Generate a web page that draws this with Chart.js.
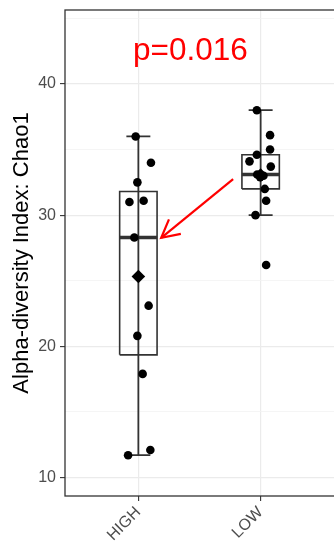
<!DOCTYPE html>
<html><head><meta charset="utf-8">
<script src="https://cdn.jsdelivr.net/npm/chart.js@4.4.1/dist/chart.umd.min.js"></script>
<style>html,body{margin:0;padding:0;background:#fff;overflow:hidden}</style>
</head><body>
<canvas id="c" width="334" height="547"></canvas>
<script>
// ---- data ----
const groups = ['HIGH', 'LOW'];
const highValues = [36.0, 34.0, 32.5, 31.0, 31.1, 28.3, 23.1, 20.8, 17.9, 11.7, 12.1];
const highJitter = [0.978, 1.103, 0.992, 0.927, 1.043, 0.967, 1.084, 0.992, 1.035, 0.916, 1.098];
const lowValues = [38.0, 36.1, 35.0, 34.6, 34.1, 33.7, 33.1, 33.0, 32.9, 32.0, 31.1, 30.0, 26.2];
const lowJitter = [1.969, 2.077, 2.077, 1.969, 1.909, 2.083, 1.972, 2.023, 1.996, 2.034, 2.045, 1.958, 2.045];
const yMajorTicks = [10, 20, 30, 40];
const yMinorTicks = [15, 25, 35, 45];
const yTitle = 'Alpha-diversity Index: Chao1';
const pLabel = 'p=0.016';
const pLabelPos = [1.426, 42.5];
const arrowFrom = [1.775, 32.75];
const arrowTo = [1.187, 28.27];

// ---- styles ----
const FONT = "'Liberation Sans', Arial, Helvetica, sans-serif";
const BOX_HALF = 0.153, CAP_HALF = 0.098;
const LINE = '#333333';

function quantile(arr, p) {
  const s = arr.slice().sort((a, b) => a - b);
  const h = (s.length - 1) * p, lo = Math.floor(h), hi = Math.ceil(h);
  return s[lo] + (s[hi] - s[lo]) * (h - lo);
}
function stats(v) {
  const q1 = quantile(v, 0.25), q3 = quantile(v, 0.75), med = quantile(v, 0.5);
  const iqr = q3 - q1;
  const inside = v.filter(x => x >= q1 - 1.5 * iqr && x <= q3 + 1.5 * iqr);
  return { q1, q3, med, lo: Math.min(...inside), hi: Math.max(...inside),
           mean: v.reduce((a, b) => a + b, 0) / v.length };
}
const allValues = [highValues, lowValues];
const allJitter = [highJitter, lowJitter];
const st = allValues.map(stats);

const boxPts = [], medPts = [], whiskPts = [], capPts = [], meanPts = [], dotPts = [];
st.forEach((s, i) => {
  const c = i + 1;
  boxPts.push({x: c - BOX_HALF, y: s.q1}, {x: c + BOX_HALF, y: s.q1}, {x: c + BOX_HALF, y: s.q3},
              {x: c - BOX_HALF, y: s.q3}, {x: c - BOX_HALF, y: s.q1}, {x: c, y: null});
  medPts.push({x: c - BOX_HALF, y: s.med}, {x: c + BOX_HALF, y: s.med}, {x: c, y: null});
  whiskPts.push({x: c, y: s.lo}, {x: c, y: s.hi}, {x: c + 0.5, y: null});
  capPts.push({x: c - CAP_HALF, y: s.lo}, {x: c + CAP_HALF, y: s.lo}, {x: c, y: null},
              {x: c - CAP_HALF, y: s.hi}, {x: c + CAP_HALF, y: s.hi}, {x: c, y: null});
  meanPts.push({x: c, y: s.mean});
  allValues[i].forEach((v, k) => dotPts.push({x: allJitter[i][k], y: v}));
});

const lineDs = (data, w) => ({ data, showLine: true, spanGaps: false, borderColor: LINE,
  borderWidth: w, pointRadius: 0, fill: false, borderJoinStyle: 'miter', borderCapStyle: 'butt' });

const annot = {
  id: 'annot',
  afterDatasetsDraw(chart) {
    const {ctx, scales: {x, y}} = chart;
    ctx.save();
    const x0 = x.getPixelForValue(arrowFrom[0]), y0 = y.getPixelForValue(arrowFrom[1]);
    const x1 = x.getPixelForValue(arrowTo[0]), y1 = y.getPixelForValue(arrowTo[1]);
    ctx.strokeStyle = '#FF0000'; ctx.lineWidth = 2.2; ctx.lineCap = 'butt';
    ctx.beginPath(); ctx.moveTo(x0, y0); ctx.lineTo(x1, y1); ctx.stroke();
    const ang = Math.atan2(y0 - y1, x0 - x1), L = 20, A = 28 * Math.PI / 180;
    ctx.beginPath();
    ctx.moveTo(x1 + L * Math.cos(ang - A), y1 + L * Math.sin(ang - A));
    ctx.lineTo(x1, y1);
    ctx.lineTo(x1 + L * Math.cos(ang + A), y1 + L * Math.sin(ang + A));
    ctx.stroke();
    ctx.fillStyle = '#FF0000';
    ctx.font = '31.5px ' + FONT;
    ctx.textAlign = 'center'; ctx.textBaseline = 'middle';
    ctx.fillText(pLabel, x.getPixelForValue(pLabelPos[0]), y.getPixelForValue(pLabelPos[1]));
    ctx.restore();
  },
  afterDraw(chart) {
    const {ctx, chartArea: a} = chart;
    ctx.save();
    ctx.strokeStyle = LINE; ctx.lineWidth = 1.3;
    ctx.strokeRect(a.left, a.top, a.right - a.left + 5, a.bottom - a.top);
    ctx.restore();
  }
};

new Chart(document.getElementById('c'), {
  type: 'scatter',
  data: { datasets: [
    { data: meanPts, pointStyle: 'rectRot', pointRadius: 6.8, backgroundColor: '#000', borderWidth: 0, order: 0 },
    { data: dotPts, pointRadius: 4.3, backgroundColor: '#000', borderWidth: 0, order: 1 },
    Object.assign(lineDs(medPts, 3.4), {order: 2}),
    Object.assign(lineDs(boxPts, 1.6), {order: 3}),
    Object.assign(lineDs(capPts, 1.8), {order: 4}),
    Object.assign(lineDs(whiskPts, 1.8), {order: 5}),
  ]},
  options: {
    responsive: false, animation: false, devicePixelRatio: 1,
    layout: { autoPadding: false, padding: { top: 10, right: 0, left: 0, bottom: 0 } },
    plugins: { legend: { display: false }, tooltip: { enabled: false } },
    scales: {
      x: {
        type: 'linear', min: 0.4, max: 2.6,
        afterBuildTicks: s => { s.ticks = groups.map((g, i) => ({ value: i + 1 })); },
        afterFit: s => { s.height = 51; s.paddingLeft = 0; s.paddingRight = 0; },
        ticks: { callback: v => groups[Math.round(v) - 1] || '', minRotation: 45, maxRotation: 45,
                 color: '#4D4D4D', font: { family: FONT, size: 16 }, padding: 2, autoSkip: false },
        grid: { color: '#EBEBEB', lineWidth: 1.2, tickLength: 5, tickColor: LINE, tickWidth: 1.1 },
        border: { display: false }
      },
      y: {
        min: 8.59, max: 45.64,
        afterBuildTicks: s => {
          s.ticks = yMajorTicks.concat(yMinorTicks).sort((a, b) => a - b).map(v => ({ value: v }));
        },
        afterFit: s => { s.width = 65; s.paddingTop = 0; s.paddingBottom = 0; },
        ticks: { callback: v => yMajorTicks.includes(v) ? String(v) : '', color: '#4D4D4D',
                 font: { family: FONT, size: 16 }, padding: 4, autoSkip: false },
        grid: {
          color: c => yMajorTicks.includes(c.tick.value) ? '#EBEBEB' : '#F3F3F3',
          lineWidth: c => yMajorTicks.includes(c.tick.value) ? 1.2 : 0.8,
          tickColor: c => yMajorTicks.includes(c.tick.value) ? LINE : 'rgba(0,0,0,0)',
          tickLength: 5, tickWidth: 1.1
        },
        border: { display: false },
        title: { display: true, text: yTitle, color: '#000', font: { family: FONT, size: 22 },
                 padding: { top: 9, bottom: 0 } }
      }
    }
  },
  plugins: [annot]
});
</script>
</body></html>
